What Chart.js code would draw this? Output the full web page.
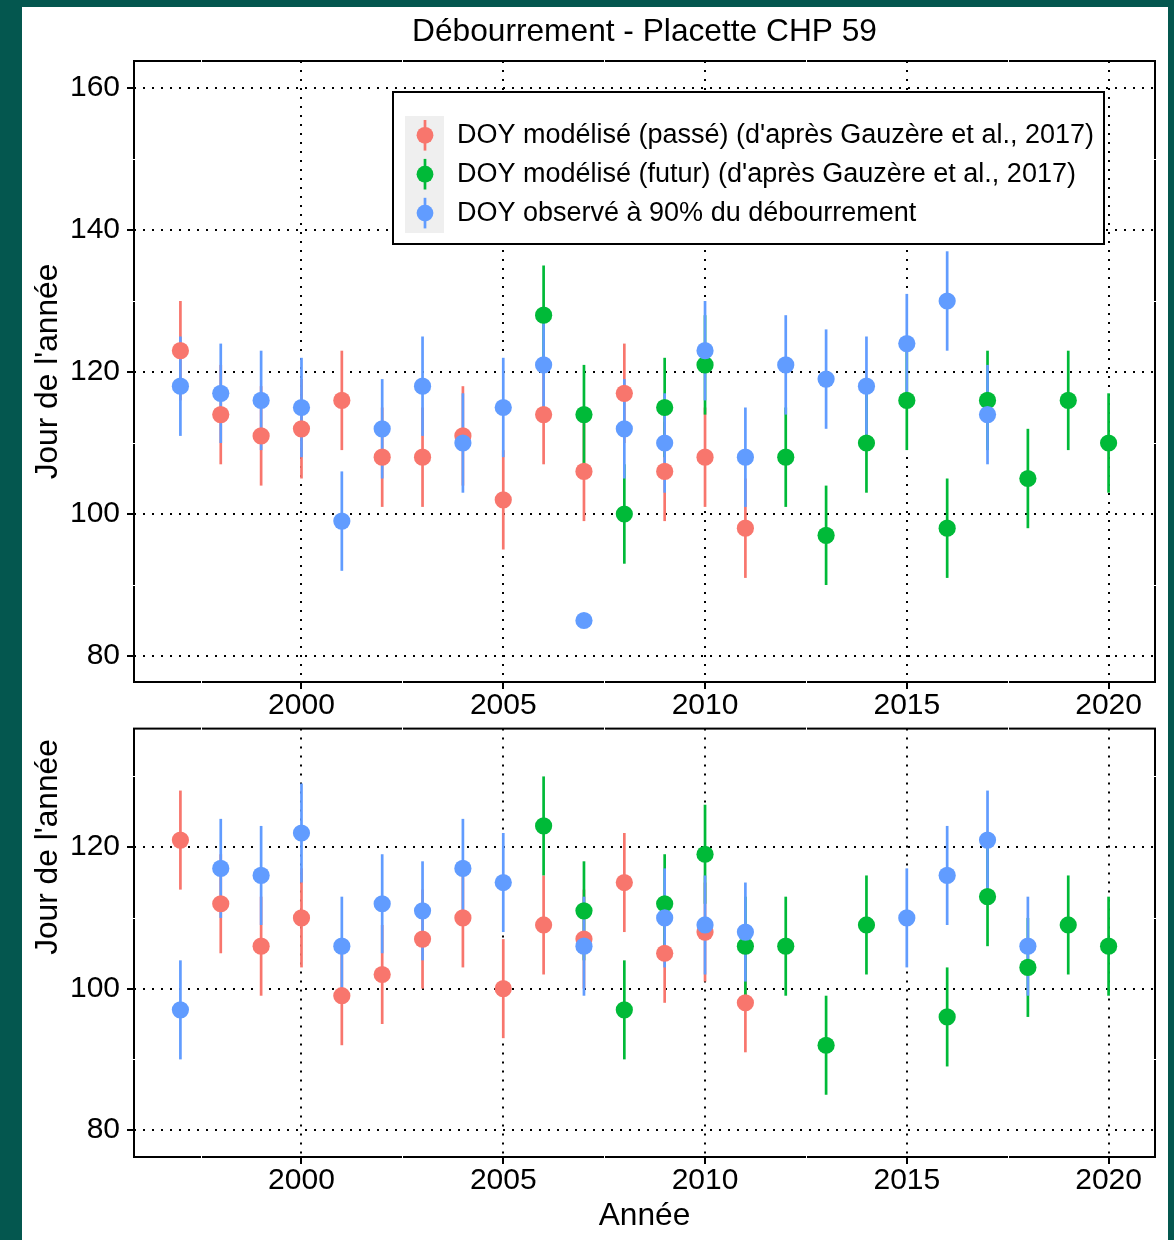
<!DOCTYPE html>
<html>
<head>
<meta charset="utf-8">
<script src="https://cdn.jsdelivr.net/npm/chart.js@4.4.1/dist/chart.umd.min.js"></script>
<style>
html, body { margin: 0; padding: 0; background: #04574f; overflow: hidden; width: 1174px; height: 1240px; }
#page { position: absolute; left: 22px; top: 7px; width: 1146px; height: 1233px; background: #ffffff; }
#cA { position: absolute; left: 0; top: 0; }
#cB { position: absolute; left: 0; top: 713px; }
</style>
</head>
<body>
<div id="page">
  <canvas id="cA" width="1146" height="713"></canvas>
  <canvas id="cB" width="1146" height="520"></canvas>
</div>
<script>
// ---------------- DATA ----------------
const years = [1997, 1998, 1999, 2000, 2001, 2002, 2003, 2004, 2005, 2006, 2007, 2008,
               2009, 2010, 2011, 2012, 2013, 2014, 2015, 2016, 2017, 2018, 2019, 2020];

const seriesLabels = [
  "DOY modélisé (passé) (d'après Gauzère et al., 2017)",
  "DOY modélisé (futur) (d'après Gauzère et al., 2017)",
  "DOY observé à 90% du débourrement"
];
const seriesColors = ['#F8766D', '#00BA38', '#619CFF'];

const plotTitle = 'Débourrement - Placette CHP 59';
const yAxisTitle = "Jour de l'année";
const xAxisTitle = 'Année';

const xTicks = [2000, 2005, 2010, 2015, 2020];
const xMinor = [1997.5, 2002.5, 2007.5, 2012.5, 2017.5];
const topYTicks = [80, 100, 120, 140, 160];
const topYMinor = [90, 110, 130, 150];
const bottomYTicks = [80, 100, 120];
const bottomYMinor = [90, 110, 130];

// Top panel
const topPasse     = [123, 114, 111, 112, 116, 108, 108, 111, 102, 114, 106, 117, 106, 108, 98, null, null, null, null, null, null, null, null, null];
const topPasseErr  = [7, 7, 7, 7, 7, 7, 7, 7, 7, 7, 7, 7, 7, 7, 7, null, null, null, null, null, null, null, null, null];
const topFutur     = [null, null, null, null, null, null, null, null, null, 128, 114, 100, 115, 121, null, 108, 97, 110, 116, 98, 116, 105, 116, 110];
const topFuturErr  = [null, null, null, null, null, null, null, null, null, 7, 7, 7, 7, 7, null, 7, 7, 7, 7, 7, 7, 7, 7, 7];
const topObs       = [118, 117, 116, 115, 99, 112, 118, 110, 115, 121, 85, 112, 110, 123, 108, 121, 119, 118, 124, 130, 114, null, null, null];
const topObsErr    = [7, 7, 7, 7, 7, 7, 7, 7, 7, 7, null, 7, 7, 7, 7, 7, 7, 7, 7, 7, 7, null, null, null];

// Bottom panel
const botPasse     = [121, 112, 106, 110, 99, 102, 107, 110, 100, 109, 107, 115, 105, 108, 98, null, null, null, null, null, null, null, null, null];
const botPasseErr  = [7, 7, 7, 7, 7, 7, 7, 7, 7, 7, 7, 7, 7, 7, 7, null, null, null, null, null, null, null, null, null];
const botFutur     = [null, null, null, null, null, null, null, null, null, 123, 111, 97, 112, 119, 106, 106, 92, 109, null, 96, 113, 103, 109, 106];
const botFuturErr  = [null, null, null, null, null, null, null, null, null, 7, 7, 7, 7, 7, 7, 7, 7, 7, null, 7, 7, 7, 7, 7];
const botObs       = [97, 117, 116, 122, 106, 112, 111, 117, 115, null, 106, null, 110, 109, 108, null, null, null, 110, 116, 121, 106, null, null];
const botObsErr    = [7, 7, 7, 7, 7, 7, 7, 7, 7, null, 7, null, 7, 7, 7, null, null, null, 7, 7, 7, 7, null, null];

// axis limits
const X_MIN = 1995.85, X_MAX = 2021.15;
const TOP_Y_MIN = 76.34, TOP_Y_MAX = 163.8;
const BOT_Y_MIN = 76.2, BOT_Y_MAX = 136.76;

// ---------------- HELPERS ----------------
Chart.defaults.font.family = '"Liberation Sans", Arial, Helvetica, sans-serif';
Chart.defaults.color = '#000';

function makeDatasets(valueLists, errLists) {
  return valueLists.map((vals, k) => ({
    label: seriesLabels[k],
    data: years.map((yr, i) => vals[i] == null ? null : { x: yr, y: vals[i], err: errLists[k][i] }).filter(Boolean),
    backgroundColor: seriesColors[k],
    borderColor: seriesColors[k],
    borderWidth: 0,
    pointRadius: 8.6,
    pointHoverRadius: 8.6,
    showLine: false,
    order: 3 - k
  }));
}

const errorBars = {
  id: 'errorBars',
  beforeDatasetsDraw(chart) {
    const { ctx, scales: { x, y } } = chart;
    ctx.save();
    ctx.lineWidth = 2.7;
    ctx.lineCap = 'butt';
    chart.data.datasets.forEach(ds => {
      ctx.strokeStyle = ds.borderColor;
      ds.data.forEach(p => {
        if (p.err == null) return;
        const px = x.getPixelForValue(p.x);
        ctx.beginPath();
        ctx.moveTo(px, y.getPixelForValue(p.y - p.err));
        ctx.lineTo(px, y.getPixelForValue(p.y + p.err));
        ctx.stroke();
      });
    });
    ctx.restore();
  }
};

const frame = {
  id: 'frame',
  afterDatasetsDraw(chart, args, opts) {
    const { ctx, chartArea: a, scales: { x, y } } = chart;
    ctx.save();
    ctx.strokeStyle = '#000';
    ctx.lineWidth = 2;
    ctx.strokeRect(a.left, a.top, a.right - a.left, a.bottom - a.top);
    ctx.strokeStyle = '#fff';
    ctx.lineWidth = 1;
    const seg = (x1, y1, x2, y2) => { ctx.beginPath(); ctx.moveTo(x1, y1); ctx.lineTo(x2, y2); ctx.stroke(); };
    (opts.xMinor || []).forEach(v => {
      const px = Math.round(x.getPixelForValue(v)) + 0.5;
      seg(px, a.top - 1.5, px, a.top + 1.5);
      seg(px, a.bottom - 1.5, px, a.bottom + 1.5);
    });
    (opts.yMinor || []).forEach(v => {
      const py = Math.round(y.getPixelForValue(v)) + 0.5;
      seg(a.left - 1.5, py, a.left + 1.5, py);
      seg(a.right - 1.5, py, a.right + 1.5, py);
    });
    ctx.restore();
  }
};

const legendBox = {
  id: 'legendBox',
  afterDraw(chart, args, opts) {
    if (!opts.show) return;
    const { ctx, chartArea: a } = chart;
    const L = a.left + 259, T = a.top + 31, W = 711, H = 152;
    ctx.save();
    ctx.fillStyle = '#fff';
    ctx.fillRect(L, T, W, H);
    ctx.strokeStyle = '#000';
    ctx.lineWidth = 2;
    ctx.strokeRect(L, T, W, H);
    ctx.fillStyle = '#EFEFEF';
    ctx.fillRect(L + 12, T + 24, 39, 117);
    chart.data.datasets.forEach((ds, i) => {
      const cx = L + 32, cy = T + 43.3 + i * 38.9;
      ctx.strokeStyle = ds.borderColor;
      ctx.lineWidth = 2.7;
      ctx.beginPath(); ctx.moveTo(cx, cy - 15.3); ctx.lineTo(cx, cy + 15.3); ctx.stroke();
      ctx.fillStyle = ds.backgroundColor;
      ctx.beginPath(); ctx.arc(cx, cy, 8.4, 0, Math.PI * 2); ctx.fill();
      ctx.fillStyle = '#000';
      ctx.font = '27px "Liberation Sans", Arial, sans-serif';
      ctx.textAlign = 'left';
      ctx.textBaseline = 'middle';
      ctx.fillText(ds.label, L + 64, cy);
    });
    ctx.restore();
  }
};

const sideTitle = {
  id: 'sideTitle',
  afterDraw(chart, args, opts) {
    if (!opts.text) return;
    const { ctx } = chart;
    ctx.save();
    ctx.translate(opts.x, opts.y);
    ctx.rotate(-Math.PI / 2);
    ctx.font = '31.7px "Liberation Sans", Arial, sans-serif';
    ctx.fillStyle = '#000';
    ctx.textAlign = 'center';
    ctx.textBaseline = 'middle';
    ctx.fillText(opts.text, 0, 0);
    ctx.restore();
  }
};

const shiftTitle = {
  id: 'shiftTitle',
  afterLayout(chart, args, opts) {
    const t = chart.titleBlock;
    if (t && opts.dx) { t.left += opts.dx; t.right += opts.dx; }
  }
};

const GRID_DASH = [2, 7];

function xScale(height, showTitle) {
  return {
    type: 'linear',
    position: 'bottom',
    min: X_MIN, max: X_MAX,
    afterBuildTicks: s => { s.ticks = xTicks.map(v => ({ value: v })); },
    afterFit: s => { s.height = height; s.paddingLeft = 0; s.paddingRight = 0; },
    ticks: {
      callback: v => String(v),
      font: { size: 30, lineHeight: 1 },
      color: '#000',
      padding: 1.5,
      maxRotation: 0,
      minRotation: 0,
      autoSkip: false
    },
    grid: { color: '#000', lineWidth: 2, tickLength: 7, tickColor: '#000', tickWidth: 2, drawTicks: true, drawOnChartArea: true },
    border: { display: false, dash: GRID_DASH },
    title: {
      display: showTitle,
      text: xAxisTitle,
      font: { size: 31.7 },
      color: '#000',
      padding: { top: 0, bottom: 5 }
    }
  };
}

function yScale(min, max, ticks, showTitle) {
  return {
    type: 'linear',
    position: 'left',
    min: min, max: max,
    afterBuildTicks: s => { s.ticks = ticks.map(v => ({ value: v })); },
    afterFit: s => { s.width = 112; s.paddingTop = 0; s.paddingBottom = 0; },
    ticks: {
      callback: v => String(v),
      font: { size: 30, lineHeight: 1 },
      color: '#000',
      padding: 7,
      autoSkip: false
    },
    grid: { color: '#000', lineWidth: 2, tickLength: 7, tickColor: '#000', tickWidth: 2, drawTicks: true, drawOnChartArea: true },
    border: { display: false, dash: GRID_DASH },
    title: {
      display: showTitle,
      text: yAxisTitle,
      font: { size: 31.7 },
      color: '#000',
      padding: { top: 7, bottom: 0 }
    }
  };
}

// ---------------- TOP CHART ----------------
new Chart(document.getElementById('cA'), {
  type: 'scatter',
  data: { datasets: makeDatasets([topPasse, topFutur, topObs], [topPasseErr, topFuturErr, topObsErr]) },
  options: {
    responsive: false,
    animation: false,
    events: [],
    layout: { padding: { left: 0, right: 13, top: 0, bottom: 0 } },
    scales: {
      x: xScale(38, false),
      y: yScale(TOP_Y_MIN, TOP_Y_MAX, topYTicks, true)
    },
    plugins: {
      legend: { display: false },
      tooltip: { enabled: false },
      title: {
        display: true,
        text: plotTitle,
        fullSize: false,
        font: { size: 31.7, weight: 'normal', lineHeight: 1.2 },
        color: '#000',
        padding: { top: 6.5, bottom: 9.46 }
      },
      shiftTitle: { dx: 0 },
      frame: { xMinor: xMinor, yMinor: topYMinor },
      legendBox: { show: true },
      sideTitle: { text: '' }
    }
  },
  plugins: [errorBars, frame, legendBox, sideTitle, shiftTitle]
});

// ---------------- BOTTOM CHART ----------------
new Chart(document.getElementById('cB'), {
  type: 'scatter',
  data: { datasets: makeDatasets([botPasse, botFutur, botObs], [botPasseErr, botFuturErr, botObsErr]) },
  options: {
    responsive: false,
    animation: false,
    events: [],
    layout: { padding: { left: 0, right: 13, top: 7, bottom: 0 } },
    scales: {
      x: xScale(83, true),
      y: yScale(BOT_Y_MIN, BOT_Y_MAX, bottomYTicks, false)
    },
    plugins: {
      legend: { display: false },
      tooltip: { enabled: false },
      title: { display: false },
      frame: { xMinor: xMinor, yMinor: bottomYMinor },
      legendBox: { show: false },
      sideTitle: { text: yAxisTitle, x: 26, y: 127 }
    }
  },
  plugins: [errorBars, frame, legendBox, sideTitle]
});
</script>
</body>
</html>
